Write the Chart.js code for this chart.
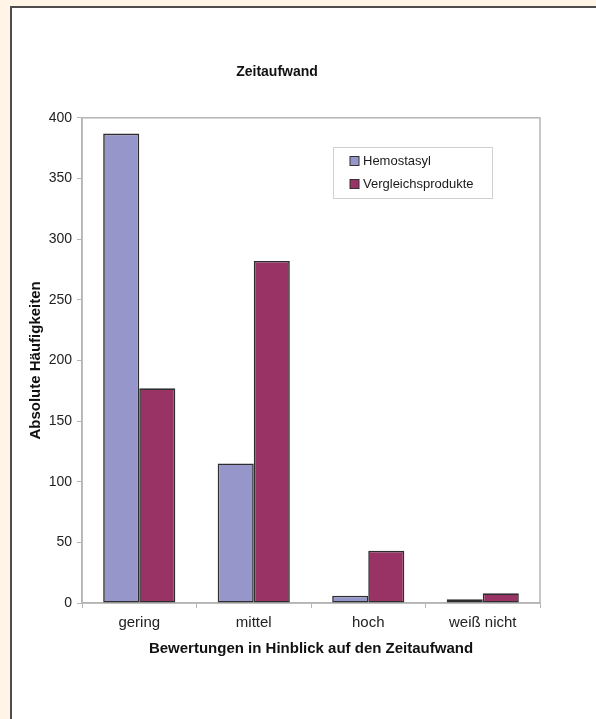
<!DOCTYPE html>
<html>
<head>
<meta charset="utf-8">
<script src="https://cdn.jsdelivr.net/npm/chart.js@4/dist/chart.umd.min.js"></script>
<style>
    body { margin: 0; background: #FFF4E6; width: 596px; height: 719px; overflow: hidden; }
    #panel { position: absolute; left: 10px; top: 6px; width: 600px; height: 730px; background: #fff; border-left: 2px solid #4d4d4d; border-top: 2px solid #4d4d4d; }
    #zeitChart { position: absolute; left: 0; top: 0; }
</style>
</head>
<body>
<div id="panel"></div>
<canvas id="zeitChart" width="596" height="719"></canvas>
<script>
// Zeitaufwand - Chart data
const categories = ['gering', 'mittel', 'hoch', 'weiß nicht'];
const seriesNames = ['Hemostasyl', 'Vergleichsprodukte'];
const hemostasylValues = [387, 115, 6, 3];
const vergleichValues = [177, 282, 43, 8];
const seriesColors = ['#9696CA', '#993366'];

const fontFamily = '"Liberation Sans", Arial, sans-serif';

// gray frame around the plot area
const plotFrame = {
    id: 'plotFrame',
    beforeDatasetsDraw(chart) {
        const { ctx, chartArea } = chart;
        ctx.save();
        ctx.strokeStyle = '#b5b5b5';
        ctx.lineWidth = 1.5;
        ctx.strokeRect(chartArea.left, chartArea.top, chartArea.right - chartArea.left, chartArea.bottom - chartArea.top);
        ctx.restore();
    }
};

// legend box inside the plot
const innerLegend = {
    id: 'innerLegend',
    afterDraw(chart) {
        const { ctx } = chart;
        ctx.save();
        ctx.strokeStyle = '#d0d0d0';
        ctx.lineWidth = 1;
        ctx.strokeRect(333.5, 147.5, 159, 51);
        ctx.font = '13px ' + fontFamily;
        ctx.textBaseline = 'middle';
        ctx.textAlign = 'left';
        chart.data.datasets.forEach((ds, i) => {
            const y = 161 + i * 23;
            ctx.fillStyle = ds.backgroundColor;
            ctx.fillRect(350, y - 4.5, 9, 9);
            ctx.strokeStyle = '#333';
            ctx.strokeRect(350, y - 4.5, 9, 9);
            ctx.fillStyle = '#1a1a1a';
            ctx.fillText(ds.label, 363, y);
        });
        ctx.restore();
    }
};

new Chart(document.getElementById('zeitChart'), {
    type: 'bar',
    data: {
        labels: categories,
        datasets: [{
            label: seriesNames[0],
            data: hemostasylValues,
            backgroundColor: seriesColors[0],
            borderColor: '#2e2e2e',
            borderWidth: 1.6,
            borderSkipped: false
        }, {
            label: seriesNames[1],
            data: vergleichValues,
            backgroundColor: seriesColors[1],
            borderColor: '#2e2e2e',
            borderWidth: 1.6,
            borderSkipped: false
        }]
    },
    options: {
        responsive: false,
        animation: false,
        devicePixelRatio: 1,
        categoryPercentage: 0.63,
        barPercentage: 1,
        layout: {
            padding: { left: 14, right: 56, top: 0, bottom: 56 }
        },
        plugins: {
            legend: { display: false },
            tooltip: { enabled: false },
            title: {
                display: true,
                text: 'Zeitaufwand',
                color: '#111',
                font: { family: fontFamily, size: 14, weight: 'bold' },
                padding: { top: 64, bottom: 37 }
            }
        },
        scales: {
            x: {
                afterFit(scale) { scale.height = 60; },
                grid: { drawOnChartArea: false, tickLength: 5, color: '#b5b5b5' },
                border: { color: '#b5b5b5', width: 1.5 },
                ticks: {
                    color: '#222',
                    padding: 6,
                    font: { family: fontFamily, size: 15 }
                },
                title: {
                    display: true,
                    text: 'Bewertungen in Hinblick auf den Zeitaufwand',
                    color: '#111',
                    font: { family: fontFamily, size: 15, weight: 'bold' },
                    padding: { top: 4, bottom: 5 }
                }
            },
            y: {
                min: 0,
                max: 400,
                afterFit(scale) { scale.width = 68; },
                grid: { drawOnChartArea: false, tickLength: 5, color: '#b5b5b5' },
                border: { color: '#b5b5b5', width: 1.5 },
                ticks: {
                    stepSize: 50,
                    color: '#222',
                    padding: 5,
                    font: { family: fontFamily, size: 14 }
                },
                title: {
                    display: true,
                    text: 'Absolute Häufigkeiten',
                    color: '#111',
                    font: { family: fontFamily, size: 15, weight: 'bold' },
                    padding: { top: 13, bottom: 4 }
                }
            }
        }
    },
    plugins: [plotFrame, innerLegend]
});
</script>
</body>
</html>
